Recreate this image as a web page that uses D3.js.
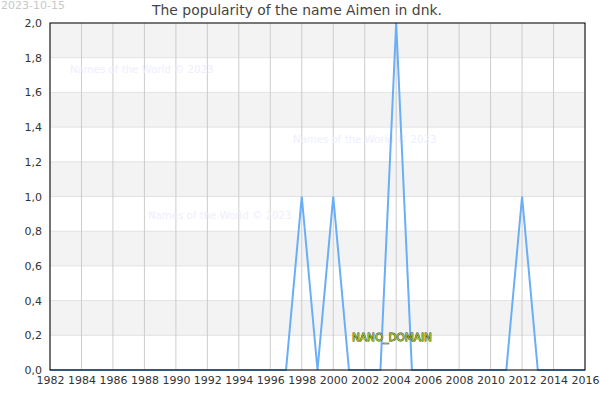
<!DOCTYPE html>
<html><head><meta charset="utf-8">
<script src="https://cdn.jsdelivr.net/npm/d3@7"></script>
<style>body{margin:0;background:#fff;font-family:"DejaVu Sans",sans-serif;}</style>
</head><body>
<svg id="c" width="600" height="400"></svg>
<script>
const years = d3.range(1982, 2017);
const values = [0,0,0,0,0,0,0,0,0,0,0,0,0,0,0,0,1,0,1,0,0,0,2,0,0,0,0,0,0,0,1,0,0,0,0];
const xTicks = d3.range(1982, 2017, 2);
const yTicks = [0,0.2,0.4,0.6,0.8,1.0,1.2,1.4,1.6,1.8,2.0];
const title = "The popularity of the name Aimen in dnk.";
const dateLabel = "2023-10-15";
const watermark = "Names of the World © 2023";

const svg = d3.select("#c");
const L=50,R=585,T=23,B=370;
const x = d3.scaleLinear().domain([1982,2016]).range([L,R]);
const y = d3.scaleLinear().domain([0,2]).range([B,T]);

// bands
const bands = [[1.8,2.0],[1.4,1.6],[1.0,1.2],[0.6,0.8],[0.2,0.4]];
svg.selectAll("rect.band").data(bands).enter().append("rect")
  .attr("x",L).attr("width",R-L).attr("y",d=>y(d[1])).attr("height",d=>y(d[0])-y(d[1]))
  .attr("fill","#f3f3f3");
// horizontal grid
svg.selectAll("line.hg").data(yTicks).enter().append("line")
  .attr("x1",L).attr("x2",R).attr("y1",d=>y(d)).attr("y2",d=>y(d))
  .attr("stroke","#e2e2e2").attr("stroke-width",1);
// vertical grid
svg.selectAll("line.vg").data(xTicks).enter().append("line")
  .attr("x1",d=>x(d)).attr("x2",d=>x(d)).attr("y1",T).attr("y2",B)
  .attr("stroke","#cccccc").attr("stroke-width",1);

// watermarks
[[70,73],[293,143],[148,219]].forEach(p=>{
  svg.append("text").attr("x",p[0]).attr("y",p[1]).text(watermark)
    .attr("font-size",10.2).attr("fill","#eeeeff");
});

// line
svg.append("path").datum(years.map((yr,i)=>[yr,values[i]]))
  .attr("d",d3.line().x(d=>x(d[0])).y(d=>y(d[1])))
  .attr("fill","none").attr("stroke","#6aaef5").attr("stroke-width",2);

// frame
svg.append("rect").attr("x",L).attr("y",T).attr("width",R-L).attr("height",B-T)
  .attr("fill","none").attr("stroke","#000").attr("stroke-width",1);

// axes
const xa = svg.append("g").attr("transform",`translate(0,${B})`)
  .call(d3.axisBottom(x).tickValues(xTicks).tickFormat(d3.format("d")).tickSize(0).tickPadding(6));
const ya = svg.append("g").attr("transform",`translate(${L},0)`)
  .call(d3.axisLeft(y).tickValues(yTicks).tickFormat(d=>d.toFixed(1).replace(".",",")).tickSize(0).tickPadding(8));
[xa,ya].forEach(a=>{a.select(".domain").remove();
  a.selectAll("text").attr("font-size",11).attr("fill","#333").attr("font-family","DejaVu Sans");});

// title
svg.append("text").attr("x",297).attr("y",15).attr("text-anchor","middle")
  .attr("font-size",13.9).attr("fill","#444").text(title);
svg.append("text").attr("x",1).attr("y",9).attr("font-size",11).attr("fill","#c8c8c8").text(dateLabel);

// NANO_DOMAIN
svg.append("text").attr("x",352).attr("y",341).text("NANO_DOMAIN")
  .attr("font-size",10.5).attr("fill","#a4c639").attr("stroke","#2b3a00").attr("stroke-width",0.8)
  .attr("paint-order","stroke");
</script>
</body></html>
